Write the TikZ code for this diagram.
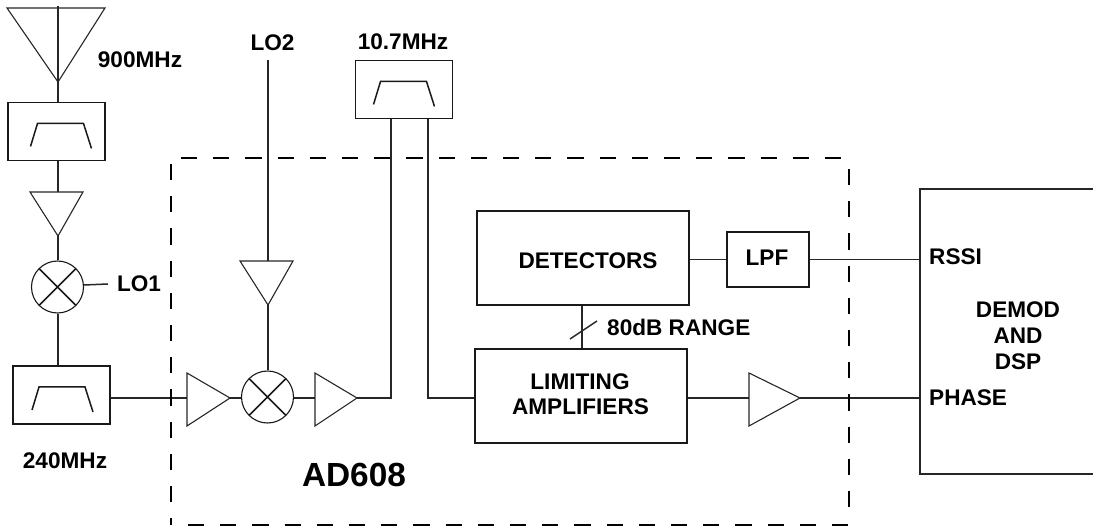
\documentclass[tikz,border=0pt]{standalone}
\usepackage{fontspec}
\setmainfont{Liberation Sans}
\begin{document}
\begin{tikzpicture}[x=1pt,y=-1pt,
  wire/.style={line width=1.5pt,draw=black!85},
  boxn/.style={draw=black!90,line width=1.5pt,inner sep=0pt,align=center,font=\lab},
  filt/.style={boxn,minimum width=97pt,minimum height=58pt,path picture={
     \draw[line width=1.5pt]
       ([shift={(#1pt-30pt,-15pt)}]path picture bounding box.center) --
       ([shift={(#1pt-23pt,8pt)}]path picture bounding box.center) --
       ([shift={(#1pt+23pt,8pt)}]path picture bounding box.center) --
       ([shift={(#1pt+31pt,-17pt)}]path picture bounding box.center);}},
  mixn/.style={circle,draw=black!90,line width=1.1pt,minimum size=52pt,inner sep=0pt,path picture={
     \draw[line width=1.5pt]
       (path picture bounding box.center) ++(-19pt,-19pt) -- ++(38pt,38pt)
       (path picture bounding box.center) ++(19pt,-19pt) -- ++(-38pt,38pt);}},
  tri/.style={draw=black!85,line width=1.1pt,line join=miter},
  dashb/.style={line width=1.5pt,dash pattern=on 16.2pt off 16pt},
  txt/.style={font=\lab,inner sep=0pt,align=center},
]
\newcommand{\lab}{\fontsize{22.6}{25}\selectfont\bfseries}
\newcommand{\labbig}{\fontsize{33.4}{36}\selectfont\bfseries}
\useasboundingbox (0,0) rectangle (1093,529);

% coordinates
\coordinate (anttop) at (58,6);
\coordinate (antapex) at (58,82);
\coordinate (a1in) at (58,192);
\coordinate (a1out) at (58,236);
\coordinate (lo1end) at (108,284);
\coordinate (a2in) at (187,398);
\coordinate (a2out) at (230,398);
\coordinate (lo2top) at (268,60);
\coordinate (a5in) at (268,261);
\coordinate (a5out) at (268,305);
\coordinate (a3in) at (315,398);
\coordinate (a3out) at (357,398);
\coordinate (a4in) at (749,398);
\coordinate (a4out) at (800,398);

% blocks
\node[filt=4] (f1) at (56.5,131.5) {};
\node[filt=0.5] (f2) at (61.5,395) {};
\node[filt=-0.5] (f3) at (404,89.5) {};
\node[mixn] (m1) at (57.5,287) {};
\node[mixn] (m2) at (267.5,397) {};
\node[boxn,minimum width=212pt,minimum height=94pt] (det) at (583,258) {};
\node[boxn,minimum width=212pt,minimum height=94pt] (lim) at (581,396) {};
\node[boxn,minimum width=82pt,minimum height=55pt] (lpf) at (768,259.5) {};
\coordinate (dtl) at (1093,189);
\coordinate (dtr) at (920,189);
\coordinate (dbr) at (920,474);
\coordinate (dbl) at (1093,474);
\coordinate (rssi) at (921,259.5);
\coordinate (phase) at (920,398);

% triangles
\draw[tri] (7,8) -- (105,8) -- (antapex) -- cycle;
\draw[tri] (30,192) -- (83,192) -- (a1out) -- cycle;
\draw[tri] (187,373) -- (187,426) -- (a2out) -- cycle;
\draw[tri] (240,261) -- (293,261) -- (a5out) -- cycle;
\draw[tri] (315,373) -- (315,426) -- (a3out) -- cycle;
\draw[tri] (749,373) -- (749,426) -- (a4out) -- cycle;

% DEMOD box (open on the right)
\draw[wire] (dtl) -- (dtr) -- (dbr) -- (dbl);

% connectors
\draw[wire] (anttop) -- (f1.north -| anttop);
\draw[wire] (f1.south -| a1in) -- (a1in);
\draw[wire] (a1out) -- (m1.north -| a1out);
\draw[wire] (m1.south -| a1in) -- (f2.north -| a1in);
\draw[wire] (84,285) -- (lo1end);
\draw[wire] (f2.east |- a2in) -- (a2in);
\draw[wire] (a2out) -- (m2.west |- a2out);
\draw[wire] (m2.east |- a3in) -- (a3in);
\draw[wire] (lo2top) -- (a5in);
\draw[wire] (a5out) -- (m2.north -| a5out);
\draw[wire] (a3out) -| (391,119);
\draw[wire] (428,119) |- (lim.west |- a4in);
\draw[wire] (det.south -| 582,0) -- (lim.north -| 582,0);
\draw[wire] (det.east |- lpf.west) -- (lpf.west);
\draw[wire] (lpf.east) -- (rssi);
\draw[wire] (lim.east |- a4in) -- (a4in);
\draw[wire] (a4out) -- (phase);

% bus slash
\coordinate (s1) at (570,339);
\coordinate (s2) at (597,321);
\draw[wire] (s1) -- (s2);

% AD608 dashed outline
\coordinate (tl) at (181,158);
\coordinate (tr) at (845,158);
\coordinate (rt) at (849,169);
\coordinate (rb) at (849,509);
\coordinate (bl) at (188,525);
\coordinate (br) at (851,525);
\coordinate (lt) at (171,164);
\coordinate (lb) at (171,525);
\draw[dashb] (tl) -- (tr);
\draw[dashb] (rt) -- (rb);
\draw[dashb] (bl) -- (br);
\draw[dashb] (lt) -- (lb);

% labels
\node[txt] (t900) at (140,60) {900MHz};
\node[txt] (tlo2) at (272.5,43) {LO2};
\node[txt] (t107) at (403,42) {10.7MHz};
\node[txt] (tlo1) at (139,284) {LO1};
\node[txt] (t240) at (65,461) {240MHz};
\node[txt,font=\labbig] (tad) at (354,475) {AD608};
\node[txt] (tdet) at (588,261) {DETECTORS};
\node[txt] (tlpf) at (767,258) {LPF};
\node[txt,anchor=west] (t80) at (607,327) {80dB RANGE};
\node[txt] (tlim1) at (580,382) {LIMITING};
\node[txt] (tlim2) at (580.5,407) {AMPLIFIERS};
\node[txt] (tdem1) at (1018,310) {DEMOD};
\node[txt] (tdem2) at (1018,336) {AND};
\node[txt] (tdem3) at (1018,362) {DSP};
\node[txt,anchor=west] (trssi) at (929,257) {RSSI};
\node[txt,anchor=west] (tphase) at (929,398) {PHASE};
\end{tikzpicture}
\end{document}
